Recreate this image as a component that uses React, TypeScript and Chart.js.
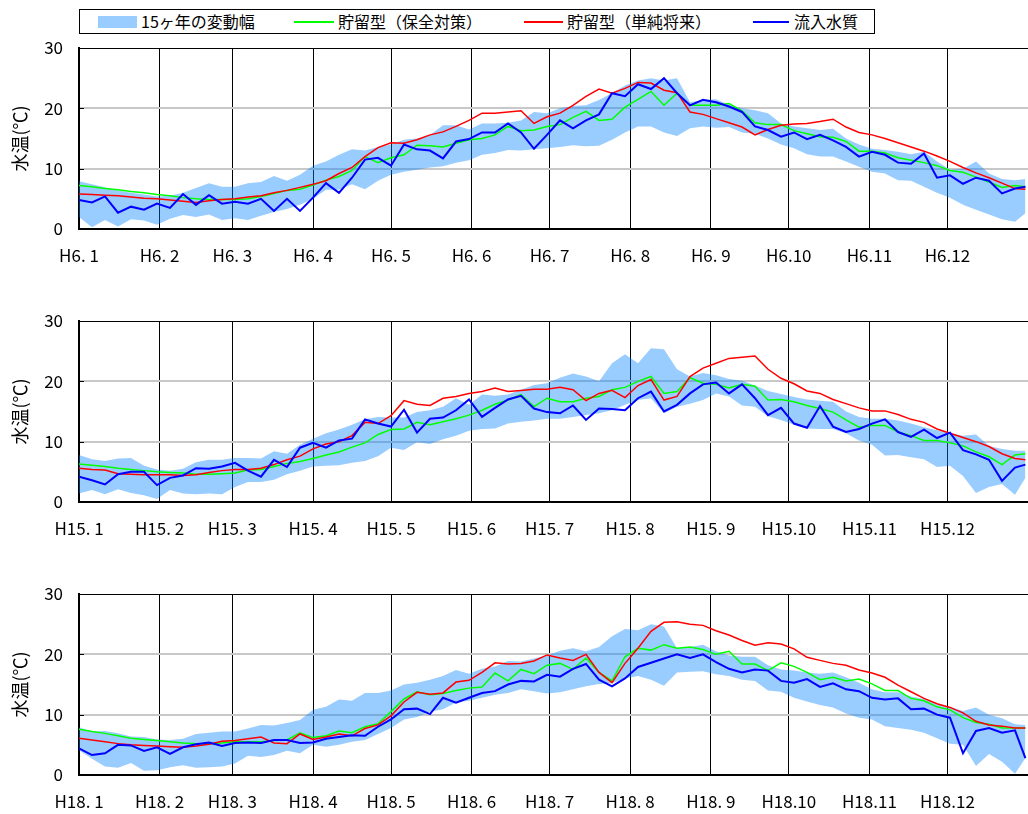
import React, { useEffect, useRef } from 'react';
import { Chart, registerables } from 'chart.js';

Chart.register(...registerables);

const FONT = "'Noto Sans CJK JP', 'Noto Sans', sans-serif";

const DAYS = [0,5,10,15,20,25,30,35,40,45,50,55,60,65,70,75,80,85,90,95,100,105,110,115,120,125,130,135,140,145,150,155,160,165,170,175,180,185,190,195,200,205,210,215,220,225,230,235,240,245,250,255,260,265,270,275,280,285,290,295,300,305,310,315,320,325,330,335,340,345,350,355,360,364];
const MONTH_START_DAYS = [0,31,59,90,120,151,181,212,243,273,304,334];
const Y_INNER_TICKS = [10, 20];

const LABELS_H6 = ['H6. 1','H6. 2','H6. 3','H6. 4','H6. 5','H6. 6','H6. 7','H6. 8','H6. 9','H6.10','H6.11','H6.12'];
const LABELS_H15 = ['H15. 1','H15. 2','H15. 3','H15. 4','H15. 5','H15. 6','H15. 7','H15. 8','H15. 9','H15.10','H15.11','H15.12'];
const LABELS_H18 = ['H18. 1','H18. 2','H18. 3','H18. 4','H18. 5','H18. 6','H18. 7','H18. 8','H18. 9','H18.10','H18.11','H18.12'];

// ---- H6 ----
const H6_UPPER = [7.9,7.4,6.9,6.4,6.0,5.7,5.4,5.5,6.0,6.8,7.6,7.0,7.0,7.6,7.8,8.8,8.0,9.0,10.5,11.2,12.3,13.2,13.0,13.6,14.0,14.8,15.0,15.6,17.2,17.2,16.5,17.5,17.5,17.6,18.0,19.4,19.2,20.0,20.4,20.5,21.4,22.5,23.8,24.6,25.0,24.6,25.0,21.0,21.4,21.5,20.6,20.0,19.7,19.2,17.5,17.0,16.7,16.4,16.6,15.0,14.0,13.3,13.1,12.8,12.4,12.8,11.2,9.8,10.0,11.2,9.2,8.3,8.1,8.3];
const H6_LOWER = [2.0,0.3,1.5,0.4,1.6,1.4,0.7,1.7,2.3,2.0,2.4,1.5,1.8,1.5,2.2,2.8,3.3,4.0,5.0,6.5,6.5,7.4,6.6,8.0,9.0,9.5,9.8,10.2,10.4,11.0,11.4,12.3,12.6,13.1,13.0,13.2,13.4,13.6,13.9,13.7,13.8,14.8,16.0,17.0,17.0,16.0,15.4,16.7,17.0,16.8,16.9,16.0,15.8,15.0,14.0,13.4,12.4,12.0,12.0,11.2,10.3,9.5,9.2,8.1,8.0,7.0,6.0,5.2,4.0,3.2,2.4,1.6,1.2,2.6];
const H6_GREEN = [7.2,7.0,6.7,6.5,6.2,6.0,5.7,5.5,5.2,5.0,4.9,4.9,4.9,5.0,5.4,5.9,6.4,6.6,7.3,8.1,8.7,9.7,12.0,11.0,11.8,12.3,13.9,13.8,13.6,14.2,14.8,15.0,15.6,17.0,16.3,16.4,17.0,17.3,18.5,19.5,18.0,18.2,20.2,21.5,22.8,20.5,22.5,20.5,20.5,20.5,20.8,19.6,17.6,17.3,17.3,16.3,15.8,15.3,15.2,14.5,12.9,12.9,12.6,11.8,11.4,11.0,10.5,9.7,9.4,8.6,7.8,6.9,7.2,7.0];
const H6_RED = [5.8,5.7,5.6,5.5,5.3,5.1,5.0,4.8,4.6,4.4,4.7,4.9,5.0,5.3,5.5,6.0,6.4,6.9,7.4,8.0,9.2,10.2,12.0,13.5,14.3,14.2,14.8,15.6,16.1,17.0,18.0,19.2,19.2,19.4,19.6,17.5,18.6,19.2,20.5,22.0,23.2,22.5,23.3,24.3,24.2,23.0,22.6,19.4,19.0,18.3,17.6,16.9,15.6,16.5,17.2,17.4,17.5,17.8,18.2,16.9,16.0,15.6,15.0,14.3,13.6,12.9,12.1,11.2,10.2,9.3,8.5,7.6,6.7,6.6];
const H6_BLUE = [4.8,4.4,5.4,2.7,3.7,3.2,4.2,3.5,5.8,4.0,5.6,4.2,4.5,4.2,5.0,3.0,5.0,3.0,5.2,7.6,6.0,8.5,11.5,11.8,10.5,14.0,13.2,13.0,11.7,14.5,14.9,16.0,16.0,17.5,16.0,13.3,15.6,18.0,16.7,18.0,19.0,22.5,22.0,24.0,23.2,25.0,22.5,20.5,21.4,21.0,20.3,19.4,17.0,16.4,15.3,16.0,14.9,15.6,14.7,13.6,12.0,12.8,12.3,11.0,10.8,12.5,8.5,8.9,7.5,8.5,8.0,5.9,6.7,7.0];

// ---- H15 ----
const H15_UPPER = [7.8,7.1,6.8,7.2,7.3,6.0,5.4,5.2,5.5,6.6,7.0,7.0,7.3,7.3,7.2,8.4,8.0,9.5,10.5,11.4,12.0,12.8,13.7,14.1,14.0,14.0,14.9,15.2,15.8,17.2,16.1,17.8,17.6,17.8,18.6,19.4,19.7,20.6,21.3,20.8,20.0,23.0,24.5,23.0,25.5,25.3,22.0,20.8,21.4,21.0,20.4,20.1,19.3,18.4,17.9,17.4,17.0,16.8,16.6,15.0,14.1,13.8,13.8,13.5,13.0,12.4,11.9,11.4,11.0,11.2,9.3,8.8,8.5,8.5];
const H15_LOWER = [1.4,2.0,1.3,2.1,1.5,1.1,0.5,2.0,1.4,1.3,1.4,1.3,2.5,3.3,3.3,3.7,4.6,5.2,5.9,6.0,6.1,6.5,6.8,7.6,9.0,8.6,9.9,9.6,10.4,11.0,11.8,12.1,12.2,13.0,13.3,13.5,13.8,13.8,14.1,14.4,14.7,15.2,16.1,16.9,17.2,14.7,15.8,16.3,16.9,18.0,17.5,16.0,15.8,14.2,13.6,12.8,12.2,12.1,12.1,11.4,10.2,9.5,7.7,7.8,7.4,7.1,5.8,6.0,4.3,1.5,2.5,3.0,1.2,4.0];
const H15_GREEN = [6.3,6.1,5.9,5.6,5.4,5.2,5.0,4.9,4.8,4.6,4.6,4.7,4.8,5.3,5.4,5.9,6.4,6.7,7.2,7.8,8.3,9.1,9.8,11.2,12.0,12.1,13.2,12.8,13.3,13.8,14.4,15.2,16.2,16.9,17.8,15.8,17.2,16.6,16.6,17.2,17.5,18.6,19.0,20.0,20.8,18.0,18.3,20.6,19.7,19.5,18.9,19.5,19.2,16.9,17.0,16.6,16.0,15.5,14.9,13.6,12.4,12.7,12.7,11.6,11.0,10.2,10.2,9.8,9.3,8.3,7.5,6.2,7.8,8.0];
const H15_RED = [5.6,5.4,5.3,4.7,4.6,4.5,4.5,4.5,4.4,4.5,4.9,5.2,5.4,5.4,5.6,6.2,7.0,7.6,8.8,9.6,10.0,11.0,13.2,13.0,14.3,16.8,16.2,16.0,17.2,17.5,18.0,18.3,18.9,18.3,18.5,18.7,18.7,19.0,18.6,16.8,18.0,18.5,17.3,19.3,20.3,16.9,17.5,20.8,22.2,23.0,23.8,24.0,24.2,22.0,20.5,19.6,18.4,18.0,17.0,16.3,15.6,15.1,15.1,14.5,13.7,13.2,12.1,11.4,10.7,10.0,9.2,8.0,7.2,7.0];
const H15_BLUE = [4.2,3.6,2.9,4.6,5.0,5.0,2.8,4.0,4.4,5.6,5.5,5.9,6.5,5.2,4.2,7.0,5.8,9.0,9.8,9.0,10.2,10.5,13.7,13.0,12.5,15.3,11.5,13.8,14.0,15.2,17.0,14.1,15.6,17.0,17.6,15.5,14.9,14.7,16.0,13.6,15.5,15.4,15.2,17.2,18.3,15.0,16.1,18.0,19.5,19.8,18.0,19.5,17.2,14.4,15.6,13.0,12.3,15.9,12.5,11.6,12.1,13.0,13.7,11.6,10.8,12.0,10.6,11.5,8.6,7.9,7.0,3.5,5.7,6.2];

// ---- H18 ----
const H18_UPPER = [7.9,7.2,7.3,6.9,6.4,6.3,5.9,5.8,6.0,6.8,7.0,7.2,7.2,7.7,8.3,8.2,8.6,9.1,10.8,11.3,12.5,12.3,13.6,13.6,14.0,15.0,15.3,15.8,16.4,17.4,16.8,17.6,18.0,18.9,18.8,19.3,19.8,20.6,21.0,20.5,21.2,23.0,24.2,24.0,25.0,24.6,21.0,21.2,21.6,20.5,19.8,19.6,19.6,18.2,17.5,17.3,17.0,16.8,17.0,16.2,15.3,14.2,13.7,13.7,13.0,12.6,11.7,11.3,10.6,11.2,10.0,9.4,8.4,8.3];
const H18_LOWER = [4.1,2.7,1.4,1.2,2.0,0.7,0.8,1.3,1.6,1.2,1.3,1.4,1.9,3.2,3.0,3.3,4.0,3.6,5.0,4.7,5.0,5.5,5.8,6.8,7.8,9.2,9.6,10.5,10.9,12.0,12.3,12.8,13.3,13.6,14.2,13.9,13.5,13.7,14.2,14.7,15.1,15.2,16.0,16.4,15.8,14.8,17.0,17.1,17.2,16.7,16.4,15.8,15.6,14.0,13.8,12.8,12.2,11.6,11.2,10.2,9.5,9.2,8.1,7.8,7.5,7.0,6.1,5.2,5.0,1.5,3.5,2.2,0.2,2.8];
const H18_GREEN = [7.6,7.2,6.9,6.5,6.1,5.9,5.7,5.5,5.3,5.2,5.2,5.3,5.5,5.5,5.5,5.7,5.8,7.0,6.2,6.5,7.3,7.0,8.0,8.5,10.5,12.6,13.8,13.3,13.5,14.0,14.4,14.6,16.9,15.6,17.5,16.8,18.2,18.5,17.5,19.4,17.0,15.6,19.6,21.0,20.7,21.6,21.0,21.2,20.8,20.0,20.5,18.4,18.4,17.3,18.6,18.0,17.0,15.8,16.2,15.6,15.9,15.1,14.0,14.0,12.7,12.3,11.3,10.8,9.5,8.7,8.4,7.8,7.8,7.8];
const H18_RED = [6.1,5.8,5.5,5.2,5.0,4.9,4.8,4.7,4.6,4.8,5.1,5.6,5.7,6.0,6.3,5.3,5.2,6.8,5.9,6.3,6.8,6.5,7.7,8.3,9.8,12.1,13.7,13.4,13.6,15.4,15.7,17.0,18.6,18.4,18.5,18.9,19.9,19.4,19.0,20.0,17.0,15.3,18.5,21.0,23.8,25.3,25.4,25.0,24.8,23.9,23.2,22.3,21.5,21.9,21.7,20.9,19.5,19.0,18.5,18.2,17.4,16.9,16.2,14.9,13.8,12.7,11.8,11.2,10.3,8.9,8.3,8.1,7.8,7.8];
const H18_BLUE = [4.4,3.3,3.6,5.0,4.9,4.0,4.6,3.5,4.6,5.1,5.4,4.8,5.3,5.4,5.3,5.8,5.8,5.3,5.4,6.0,6.3,6.6,6.5,8.0,9.2,10.9,11.0,10.1,12.8,12.0,12.8,13.6,13.9,15.0,15.6,15.5,16.6,16.3,17.6,18.4,15.8,14.7,16.0,17.9,18.6,19.3,20.0,19.4,20.0,18.7,17.6,17.0,17.5,17.3,15.6,15.3,15.9,14.6,15.2,14.2,13.9,12.8,12.5,12.7,10.9,11.0,10.0,9.5,3.6,7.3,7.8,7.0,7.4,2.8];

const SERIES_NAMES = ['15ヶ年の変動幅', '貯留型（保全対策）', '貯留型（単純将来）', '流入水質'];
const Y_TITLE = '水温(℃)';

const BAND_FILL = 'rgba(0,128,255,0.4)';
const BAND_SWATCH = '#99CCFF';
const GREEN = '#00FF00';
const RED = '#FF0000';
const BLUE = '#0000FF';

type PanelProps = {
  top: number;
  labels: string[];
  upper: number[];
  lower: number[];
  green: number[];
  red: number[];
  blue: number[];
};

const toXY = (arr: number[]) => arr.map((v, i) => ({ x: DAYS[i], y: v }));

const innerTicks = {
  id: 'innerTicks',
  afterDraw(chart: any) {
    const { ctx, chartArea, scales } = chart;
    ctx.save();
    ctx.strokeStyle = '#000';
    ctx.lineWidth = 1;
    Y_INNER_TICKS.forEach((v) => {
      const y = Math.round(scales.y.getPixelForValue(v)) + 0.5;
      ctx.beginPath();
      ctx.moveTo(chartArea.left, y);
      ctx.lineTo(chartArea.left + 5, y);
      ctx.stroke();
    });
    ctx.restore();
  },
};

function Panel({ top, labels, upper, lower, green, red, blue }: PanelProps) {
  const ref = useRef<HTMLCanvasElement | null>(null);
  useEffect(() => {
    if (!ref.current) return;
    const chart = new Chart(ref.current, {
      type: 'line',
      data: {
        datasets: [
          { label: SERIES_NAMES[0] + '(min)', data: toXY(lower), borderWidth: 0, borderColor: 'rgba(0,0,0,0)', pointRadius: 0, fill: false, order: 5 },
          { label: SERIES_NAMES[0], data: toXY(upper), borderWidth: 0, borderColor: 'rgba(0,0,0,0)', backgroundColor: BAND_FILL, pointRadius: 0, fill: '-1', order: 4 },
          { label: SERIES_NAMES[1], data: toXY(green), borderColor: GREEN, borderWidth: 1.5, pointRadius: 0, fill: false, order: 3 },
          { label: SERIES_NAMES[2], data: toXY(red), borderColor: RED, borderWidth: 1.5, pointRadius: 0, fill: false, order: 2 },
          { label: SERIES_NAMES[3], data: toXY(blue), borderColor: BLUE, borderWidth: 2, pointRadius: 0, fill: false, order: 1 },
        ],
      },
      options: {
        animation: false,
        responsive: false,
        maintainAspectRatio: false,
        layout: { padding: { top: 10, right: 0, bottom: 0, left: 0 } },
        plugins: { legend: { display: false }, tooltip: { enabled: false } },
        scales: {
          x: {
            type: 'linear',
            min: 0,
            max: 365,
            afterBuildTicks: (s: any) => {
              s.ticks = MONTH_START_DAYS.map((v) => ({ value: v }));
            },
            afterFit: (s: any) => {
              s.height = 45;
            },
            ticks: {
              autoSkip: false,
              maxRotation: 0,
              padding: 16,
              color: '#000',
              font: { family: FONT, size: 17 },
              callback: (_v: any, i: number) => labels[i],
            },
            grid: { color: '#000', lineWidth: 1, drawTicks: false },
            border: { color: '#000', width: 2 },
          },
          y: {
            min: 0,
            max: 30,
            afterFit: (s: any) => {
              s.width = 79;
              s.paddingTop = 0;
              s.paddingBottom = 0;
            },
            ticks: {
              stepSize: 10,
              padding: 16,
              color: '#000',
              font: { family: FONT, size: 17 },
            },
            grid: {
              drawTicks: false,
              color: (ctx: any) => (ctx.tick && ctx.tick.value === 30 ? '#000' : '#C8C8C8'),
              lineWidth: (ctx: any) => (ctx.tick && ctx.tick.value === 30 ? 1 : 2),
            },
            border: { color: '#000', width: 2 },
            title: {
              display: true,
              text: Y_TITLE,
              color: '#000',
              font: { family: FONT, size: 18 },
              padding: { top: 9, bottom: 0 },
            },
          },
        },
      },
      plugins: [innerTicks],
    } as any);
    return () => chart.destroy();
  }, [labels, upper, lower, green, red, blue]);

  return (
    <canvas
      ref={ref}
      width={1028}
      height={236}
      style={{ position: 'absolute', left: 0, top, width: 1028, height: 236 }}
    />
  );
}

function Legend() {
  const textStyle: React.CSSProperties = {
    position: 'absolute',
    top: 0,
    height: 23,
    lineHeight: '23px',
    fontFamily: FONT,
    fontSize: 16,
    color: '#000',
    whiteSpace: 'nowrap',
  };
  return (
    <div
      style={{
        position: 'absolute',
        left: 79,
        top: 9,
        width: 796,
        height: 25,
        border: '1px solid #000',
        boxSizing: 'border-box',
        background: '#fff',
      }}
    >
      <div style={{ position: 'absolute', left: 18, top: 6, width: 39, height: 12, background: BAND_SWATCH }} />
      <div style={{ ...textStyle, left: 61 }}>{SERIES_NAMES[0]}</div>
      <div style={{ position: 'absolute', left: 214, top: 11, width: 40, height: 2, background: GREEN }} />
      <div style={{ ...textStyle, left: 258 }}>{SERIES_NAMES[1]}</div>
      <div style={{ position: 'absolute', left: 444, top: 11, width: 39, height: 2, background: RED }} />
      <div style={{ ...textStyle, left: 487 }}>{SERIES_NAMES[2]}</div>
      <div style={{ position: 'absolute', left: 673, top: 11, width: 36, height: 2, background: BLUE }} />
      <div style={{ ...textStyle, left: 714 }}>{SERIES_NAMES[3]}</div>
    </div>
  );
}

export default function App() {
  return (
    <div style={{ position: 'absolute', left: 0, top: 0, width: 1028, height: 814, background: '#fff', overflow: 'hidden' }}>
      <Legend />
      <Panel top={38} labels={LABELS_H6} upper={H6_UPPER} lower={H6_LOWER} green={H6_GREEN} red={H6_RED} blue={H6_BLUE} />
      <Panel top={311} labels={LABELS_H15} upper={H15_UPPER} lower={H15_LOWER} green={H15_GREEN} red={H15_RED} blue={H15_BLUE} />
      <Panel top={584} labels={LABELS_H18} upper={H18_UPPER} lower={H18_LOWER} green={H18_GREEN} red={H18_RED} blue={H18_BLUE} />
    </div>
  );
}
